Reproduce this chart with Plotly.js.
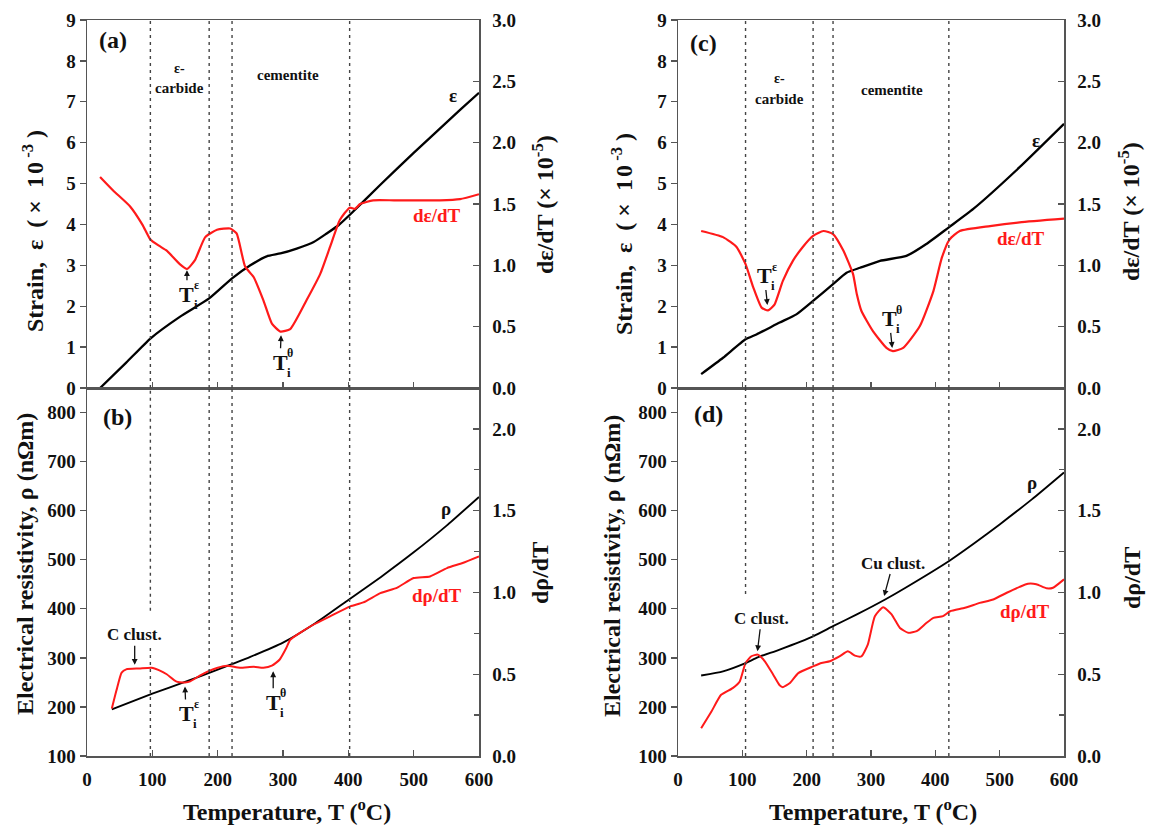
<!DOCTYPE html>
<html>
<head>
<meta charset="utf-8">
<script src="https://cdn.plot.ly/plotly-3.0.1.min.js"></script>
<style>
  html, body { margin: 0; padding: 0; background: #fff; }
  #chart { width: 1149px; height: 826px; }
</style>
</head>
<body>
<div id="chart"></div>
<script>
// ---------- (a) strain and its derivative, alloy 1 ----------
const T_strainA = [20, 60, 97, 142, 187, 222, 250, 275, 296, 321, 347, 367, 385, 402, 449, 500, 571, 600];
const strainA   = [0.0, 0.62, 1.21, 1.74, 2.19, 2.68, 3.00, 3.22, 3.29, 3.41, 3.57, 3.78, 3.98, 4.23, 4.97, 5.75, 6.80, 7.22];
const T_dStrainA = [20, 40, 66, 85, 97, 110, 122, 142, 153, 165, 181, 199, 219, 229, 242, 255, 270, 283, 296, 311, 336, 357, 372, 387, 402, 410, 418, 438, 470, 500, 540, 571, 600];
const dStrainA   = [1.72, 1.61, 1.48, 1.33, 1.21, 1.16, 1.12, 1.01, 0.97, 1.04, 1.23, 1.29, 1.30, 1.26, 0.99, 0.905, 0.715, 0.525, 0.46, 0.48, 0.715, 0.93, 1.15, 1.37, 1.47, 1.46, 1.50, 1.53, 1.53, 1.53, 1.53, 1.54, 1.58];

// ---------- (b) resistivity and its derivative, alloy 1 ----------
const T_rhoB = [38, 100, 150, 200, 250, 300, 350, 400, 450, 500, 550, 600];
const rhoB   = [195, 227, 251, 276, 302, 331, 371, 418, 465, 515, 569, 628];
const T_dRhoB = [38, 45, 53, 60, 80, 99, 110, 122, 137, 150, 158, 172, 186, 200, 214, 234, 255, 270, 283, 295, 305, 311, 326, 347, 372, 403, 423, 449, 475, 500, 525, 551, 575, 600];
const dRhoB   = [0.29, 0.40, 0.51, 0.53, 0.535, 0.54, 0.525, 0.50, 0.455, 0.45, 0.456, 0.49, 0.519, 0.54, 0.552, 0.54, 0.546, 0.54, 0.552, 0.59, 0.66, 0.71, 0.753, 0.804, 0.854, 0.915, 0.939, 0.996, 1.03, 1.088, 1.098, 1.149, 1.18, 1.22];

// ---------- (c) strain and its derivative, alloy 2 ----------
const T_strainC = [36, 70, 105, 122, 158, 184, 210, 241, 262, 283, 314, 355, 386, 421, 459, 531, 600];
const strainC   = [0.34, 0.74, 1.19, 1.31, 1.60, 1.80, 2.13, 2.54, 2.82, 2.94, 3.11, 3.23, 3.52, 3.93, 4.38, 5.40, 6.46];
const T_dStrainC = [36, 70, 91, 105, 117, 130, 140, 150, 163, 179, 194, 210, 226, 241, 257, 272, 278, 285, 303, 324, 334, 350, 376, 397, 410, 422, 438, 485, 531, 600];
const dStrainC   = [1.28, 1.23, 1.15, 1.01, 0.82, 0.655, 0.633, 0.68, 0.873, 1.04, 1.15, 1.24, 1.28, 1.255, 1.12, 0.93, 0.764, 0.63, 0.464, 0.327, 0.30, 0.327, 0.505, 0.79, 1.06, 1.21, 1.28, 1.32, 1.35, 1.38];

// ---------- (d) resistivity and its derivative, alloy 2 ----------
const T_rhoD = [36, 70, 105, 124, 158, 210, 241, 278, 322, 355, 422, 460, 500, 550, 600];
const rhoD   = [264, 272.5, 289.5, 301, 317, 344, 364.6, 388.6, 419, 444, 498, 533, 572, 623, 678];
const T_dRhoD = [36, 52, 67, 85, 96, 105, 114, 124, 135, 148, 158, 163, 174, 187, 210, 223, 236, 251, 264, 275, 285, 295, 306, 319, 332, 345, 358, 371, 386, 397, 412, 423, 446, 469, 490, 511, 531, 544, 557, 573, 583, 600];
const dRhoD   = [0.17, 0.272, 0.374, 0.415, 0.456, 0.569, 0.61, 0.62, 0.579, 0.497, 0.432, 0.421, 0.446, 0.507, 0.548, 0.569, 0.579, 0.609, 0.64, 0.614, 0.609, 0.681, 0.855, 0.91, 0.866, 0.783, 0.753, 0.763, 0.813, 0.845, 0.855, 0.885, 0.906, 0.936, 0.957, 0.998, 1.034, 1.053, 1.05, 1.025, 1.029, 1.08];

// region boundaries (°C) drawn as dotted verticals
const boundsLeft  = [97, 187, 222, 402];
const boundsRight = [105, 210, 241, 421];

// axis tick values
const strainTicks = [0, 1, 2, 3, 4, 5, 6, 7, 8, 9];
const dStrainTicks = [0, 0.5, 1.0, 1.5, 2.0, 2.5, 3.0];
const rhoTicks = [100, 200, 300, 400, 500, 600, 700, 800];
const dRhoTicks = [0, 0.5, 1.0, 1.5, 2.0];
const dRhoMinor = [0.25, 0.75, 1.25, 1.75];
const tempTicks = [0, 100, 200, 300, 400, 500, 600];

const SERIF = "'Liberation Serif', 'Times New Roman', serif";
const F = (size, color) => ({ family: SERIF, size: size, color: color || '#111', weight: 'bold' });
const RED = '#ff1a1a';
const AX = '#555';

// panel placement in a 1149 x 826 page
const W = 1149, H = 826;
const colL = [87 / W, 479 / W];
const colR = [678 / W, 1064 / W];
const rowTop = [1 - 388 / H, 1 - 20 / H];
const rowBot = [1 - 756 / H, 1 - 388 / H];

function line(x, y, xa, ya, color, width) {
  return { x: x, y: y, xaxis: xa, yaxis: ya, type: 'scatter', mode: 'lines',
           line: { color: color, width: width, shape: 'spline', smoothing: 0.5 },
           hoverinfo: 'skip', showlegend: false };
}

const traces = [
  line(T_strainA, strainA, 'x', 'y', '#000', 2.3),
  line(T_dStrainA, dStrainA, 'x', 'y2', RED, 2.2),
  line(T_rhoB, rhoB, 'x2', 'y3', '#000', 1.9),
  line(T_dRhoB, dRhoB, 'x2', 'y4', RED, 2.0),
  line(T_strainC, strainC, 'x3', 'y5', '#000', 2.3),
  line(T_dStrainC, dStrainC, 'x3', 'y6', RED, 2.2),
  line(T_rhoD, rhoD, 'x4', 'y7', '#000', 1.9),
  line(T_dRhoD, dRhoD, 'x4', 'y8', RED, 2.0)
];

function xAxis(domain, anchor, labels) {
  return {
    domain: domain, anchor: anchor, range: [0, 600], tickvals: tempTicks,
    ticks: 'inside', ticklen: 6, tickwidth: 1.3, tickcolor: AX,
    showline: true, linecolor: AX, linewidth: 1.5, mirror: true,
    showgrid: false, zeroline: false, showticklabels: labels,
    tickfont: F(19), ticklabelstandoff: 6, automargin: false, fixedrange: true
  };
}
function yLeft(domain, anchor, range, ticks) {
  return {
    domain: domain, anchor: anchor, range: range, tickvals: ticks,
    ticks: 'outside', ticklen: 6, tickwidth: 1.3, tickcolor: AX,
    showline: true, linecolor: AX, linewidth: 1.5,
    showgrid: false, zeroline: false, tickfont: F(19), automargin: false, fixedrange: true
  };
}
function yRight(over, anchor, range, ticks, minorTicks) {
  const ax = {
    overlaying: over, anchor: anchor, side: 'right', range: range, tickvals: ticks,
    tickformat: '.1f', ticks: 'inside', ticklen: 6, tickwidth: 1.3, tickcolor: AX,
    showline: true, linecolor: AX, linewidth: 1.5,
    showgrid: false, zeroline: false, tickfont: F(19), ticklabelstandoff: 8,
    automargin: false, fixedrange: true
  };
  if (minorTicks) ax.minor = { tickvals: minorTicks, ticks: 'inside', ticklen: 5, tickwidth: 1.3, tickcolor: AX };
  return ax;
}

// dotted region boundaries (the first one in the resistivity panels breaks around the cluster label)
const shapes = [];
function vline(xr, yr, x, y0, y1) {
  shapes.push({ type: 'line', xref: xr, yref: yr, x0: x, x1: x, y0: y0, y1: y1,
                line: { color: '#444', width: 1.4, dash: '3px,4px' } });
}
boundsLeft.forEach(t => vline('x', 'y domain', t, 0, 1));
boundsRight.forEach(t => vline('x3', 'y5 domain', t, 0, 1));
boundsLeft.forEach((t, i) => {
  if (i === 0) { vline('x2', 'y3', t, 100, 323); vline('x2', 'y3', t, 396, 850); }
  else vline('x2', 'y3', t, 100, 850);
});
boundsRight.forEach((t, i) => {
  if (i === 0) { vline('x4', 'y7', t, 100, 295); vline('x4', 'y7', t, 430, 850); }
  else vline('x4', 'y7', t, 100, 850);
});

const ann = [];
function txt(xr, yr, x, y, text, font, extra) {
  ann.push(Object.assign({ xref: xr, yref: yr, x: x, y: y, text: text, showarrow: false, font: font,
                           xanchor: 'center', yanchor: 'middle' }, extra || {}));
}
function pointer(xr, yr, x, y, ax, ay, text, font) {
  ann.push({ xref: xr, yref: yr, x: x, y: y, ax: ax, ay: ay, text: text, font: font,
             showarrow: true, arrowhead: 2, arrowsize: 0.9, arrowwidth: 1.3, arrowcolor: '#111', standoff: 0 });
}
// onset temperature marker: T with stacked sub/superscript
function onset(xr, yr, x, y, ax, ay, sup) {
  pointer(xr, yr, x, y, ax, ay, 'T', F(22));
  txt(xr, yr, x, y, sup, F(12), { xshift: ax + 10, yshift: -ay + 9 });
  txt(xr, yr, x, y, 'i', F(13), { xshift: ax + 9, yshift: -ay - 10 });
}

// panel letters
txt('x', 'y', 40, 8.5, '(a)', F(24));
txt('x2', 'y3', 47, 791, '(b)', F(24));
txt('x3', 'y5', 39, 8.43, '(c)', F(24));
txt('x4', 'y7', 47, 798, '(d)', F(24));

// region names
txt('x', 'y', 142, 7.82, 'ε-', F(14));
txt('x', 'y', 142, 7.33, 'carbide', F(15));
txt('x', 'y', 308, 7.65, 'cementite', F(15));
txt('x3', 'y5', 158, 7.58, 'ε-', F(14));
txt('x3', 'y5', 158, 7.06, 'carbide', F(15));
txt('x3', 'y5', 332, 7.30, 'cementite', F(15));

// curve names
txt('x', 'y', 560, 7.16, 'ε', F(19));
txt('x', 'y', 535, 4.22, 'dε/dT', F(19, RED));
txt('x2', 'y3', 549, 605, 'ρ', F(19));
txt('x2', 'y3', 535, 427, 'dρ/dT', F(19, RED));
txt('x3', 'y5', 556, 6.05, 'ε', F(19));
txt('x3', 'y5', 533, 3.65, 'dε/dT', F(19, RED));
txt('x4', 'y7', 550, 658, 'ρ', F(19));
txt('x4', 'y7', 539, 395, 'dρ/dT', F(19, RED));

// onset markers
onset('x', 'y2', 153, 0.96, 0, 24, 'ε');
onset('x', 'y2', 297, 0.43, -1, 27, 'θ');
onset('x2', 'y4', 150, 0.425, 1, 27, 'ε');
onset('x2', 'y4', 285, 0.518, 0, 31, 'θ');
onset('x3', 'y6', 139, 0.677, -3, -29, 'ε');
onset('x3', 'y6', 333, 0.327, -3, -29, 'θ');

// cluster markers
pointer('x2', 'y3', 73, 286, 0, -30, 'C clust.', F(17));
pointer('x4', 'y7', 123.5, 313.5, 4, -33, 'C clust.', F(17));
pointer('x4', 'y7', 320.4, 426, 9, -33, 'Cu clust.', F(17));

// axis titles
function title(x, y, text, angle) {
  ann.push({ xref: 'paper', yref: 'paper', x: x / W, y: 1 - y / H, text: text, showarrow: false,
             textangle: angle, font: F(24), xanchor: 'center', yanchor: 'middle' });
}
const strainTitle = 'Strain,&nbsp; ε&nbsp; (&nbsp;×&nbsp; 1&#8202;0<sup>&nbsp;-3</sup>&nbsp;)';
const dStrainTitle = 'dε/dT (× 10<sup>-5</sup>)';
const rhoTitle = 'Electrical resistivity, ρ (nΩm)';
const tempTitle = 'Temperature, T (<sup>o</sup>C)';
title(33, 231, strainTitle, -90);
title(543, 205, dStrainTitle, -90);
title(25, 564, rhoTitle, -90);
title(540, 573, 'dρ/dT', -90);
title(287, 810, tempTitle, 0);
title(622, 234, strainTitle, -90);
title(1129, 212, dStrainTitle, -90);
title(612, 566, rhoTitle, -90);
title(1132, 578, 'dρ/dT', -90);
title(873, 810, tempTitle, 0);

const layout = {
  width: W, height: H,
  margin: { l: 0, r: 0, t: 0, b: 0 },
  paper_bgcolor: '#fff', plot_bgcolor: '#fff',
  showlegend: false,
  xaxis:  xAxis(colL, 'y', false),
  xaxis2: xAxis(colL, 'y3', true),
  xaxis3: xAxis(colR, 'y5', false),
  xaxis4: xAxis(colR, 'y7', true),
  yaxis:  yLeft(rowTop, 'x', [0, 9], strainTicks),
  yaxis2: yRight('y', 'x', [0, 3], dStrainTicks),
  yaxis3: yLeft(rowBot, 'x2', [100, 850], rhoTicks),
  yaxis4: yRight('y3', 'x2', [0, 2.25], dRhoTicks, dRhoMinor),
  yaxis5: yLeft(rowTop, 'x3', [0, 9], strainTicks),
  yaxis6: yRight('y5', 'x3', [0, 3], dStrainTicks),
  yaxis7: yLeft(rowBot, 'x4', [100, 850], rhoTicks),
  yaxis8: yRight('y7', 'x4', [0, 2.25], dRhoTicks, dRhoMinor),
  shapes: shapes,
  annotations: ann
};

Plotly.newPlot('chart', traces, layout, { staticPlot: true, displayModeBar: false });
</script>
</body>
</html>
